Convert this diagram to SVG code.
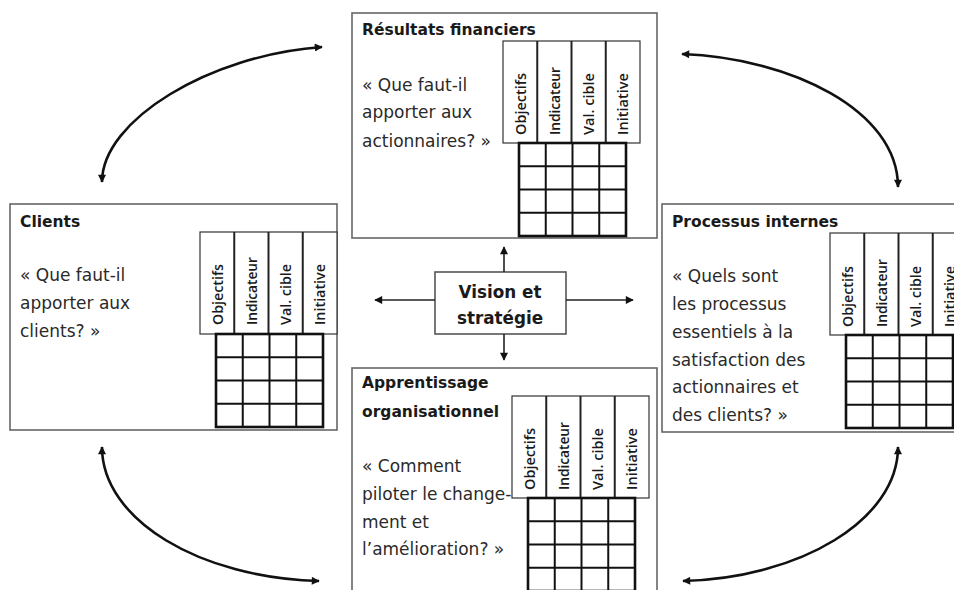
<svg xmlns="http://www.w3.org/2000/svg" width="954" height="590" viewBox="0 0 954 590">
  <style>
    .box { fill: #fff; stroke: #666; stroke-width: 1.6; }
    .hdr { fill: #fff; stroke: #333; stroke-width: 1.2; }
    .div { stroke: #222; stroke-width: 2; }
    .grid { fill: #fff; stroke: #111; stroke-width: 2.6; }
    .gl { stroke: #111; stroke-width: 2; }
    .title { font-family: "DejaVu Sans", sans-serif; font-weight: bold; font-size: 15.5px; fill: #1a1a1a; }
    .q { font-family: "DejaVu Sans", sans-serif; font-size: 17px; fill: #2a2a2a; }
    .col { font-family: "Open Sans", "Liberation Sans", sans-serif; font-weight: 600; font-size: 14.5px; fill: #1a1a1a; dominant-baseline: central; }
    .center { font-family: "DejaVu Sans", sans-serif; font-weight: bold; font-size: 16.8px; fill: #1a1a1a; text-anchor: middle; }
    .link { fill: none; stroke: #111; stroke-width: 2.6; }
    .axis { fill: none; stroke: #222; stroke-width: 1.6; }
  </style>
  <defs>
    <marker id="ah" viewBox="0 0 10 10" refX="9" refY="5" markerWidth="9" markerHeight="8" markerUnits="userSpaceOnUse" orient="auto-start-reverse">
      <path d="M0,0 L10,5 L0,10 z" fill="#111"/>
    </marker>
  </defs>

  <rect width="954" height="590" fill="#fff"/>

  <!-- Résultats financiers -->
  <g id="financier">
    <rect class="box" x="352" y="13" width="305" height="225"/>
    <text class="title" x="362" y="35">Résultats financiers</text>
    <text class="q" x="362" y="91">« Que faut-il</text>
    <text class="q" x="362" y="118">apporter aux</text>
    <text class="q" x="362" y="147">actionnaires? »</text>
    <rect class="hdr" x="503" y="41" width="137" height="102"/>
    <line class="div" x1="537.25" y1="41" x2="537.25" y2="143"/>
    <line class="div" x1="571.5" y1="41" x2="571.5" y2="143"/>
    <line class="div" x1="605.75" y1="41" x2="605.75" y2="143"/>
    <text class="col" transform="translate(520.1,135) rotate(-90)" textLength="62" lengthAdjust="spacingAndGlyphs">Objectifs</text>
    <text class="col" transform="translate(554.4,135) rotate(-90)" textLength="68" lengthAdjust="spacingAndGlyphs">Indicateur</text>
    <text class="col" transform="translate(588.6,135) rotate(-90)" textLength="62" lengthAdjust="spacingAndGlyphs">Val. cible</text>
    <text class="col" transform="translate(622.9,135) rotate(-90)" textLength="62" lengthAdjust="spacingAndGlyphs">Initiative</text>
    <rect class="grid" x="519" y="143" width="107" height="93"/>
    <line class="gl" x1="545.75" y1="143" x2="545.75" y2="236"/>
    <line class="gl" x1="572.5" y1="143" x2="572.5" y2="236"/>
    <line class="gl" x1="599.25" y1="143" x2="599.25" y2="236"/>
    <line class="gl" x1="519" y1="166.25" x2="626" y2="166.25"/>
    <line class="gl" x1="519" y1="189.5" x2="626" y2="189.5"/>
    <line class="gl" x1="519" y1="212.75" x2="626" y2="212.75"/>
  </g>

  <!-- Clients -->
  <g id="clients">
    <rect class="box" x="10" y="204" width="327" height="226"/>
    <text class="title" x="20" y="227">Clients</text>
    <text class="q" x="20" y="281">« Que faut-il</text>
    <text class="q" x="20" y="309">apporter aux</text>
    <text class="q" x="20" y="337">clients? »</text>
    <rect class="hdr" x="200" y="232" width="137" height="102"/>
    <line class="div" x1="234.25" y1="232" x2="234.25" y2="334"/>
    <line class="div" x1="268.5" y1="232" x2="268.5" y2="334"/>
    <line class="div" x1="302.75" y1="232" x2="302.75" y2="334"/>
    <text class="col" transform="translate(217.1,325) rotate(-90)" textLength="61" lengthAdjust="spacingAndGlyphs">Objectifs</text>
    <text class="col" transform="translate(251.4,325) rotate(-90)" textLength="68" lengthAdjust="spacingAndGlyphs">Indicateur</text>
    <text class="col" transform="translate(285.6,325) rotate(-90)" textLength="61" lengthAdjust="spacingAndGlyphs">Val. cible</text>
    <text class="col" transform="translate(319.9,325) rotate(-90)" textLength="61" lengthAdjust="spacingAndGlyphs">Initiative</text>
    <rect class="grid" x="216" y="334" width="107" height="93"/>
    <line class="gl" x1="242.75" y1="334" x2="242.75" y2="427"/>
    <line class="gl" x1="269.5" y1="334" x2="269.5" y2="427"/>
    <line class="gl" x1="296.25" y1="334" x2="296.25" y2="427"/>
    <line class="gl" x1="216" y1="357.25" x2="323" y2="357.25"/>
    <line class="gl" x1="216" y1="380.5" x2="323" y2="380.5"/>
    <line class="gl" x1="216" y1="403.75" x2="323" y2="403.75"/>
  </g>

  <!-- Processus internes (runs past the right edge) -->
  <g id="processus">
    <rect class="box" x="662" y="204" width="300" height="228"/>
    <text class="title" x="672" y="227">Processus internes</text>
    <text class="q" x="672" y="282">« Quels sont</text>
    <text class="q" x="672" y="310">les processus</text>
    <text class="q" x="672" y="338">essentiels à la</text>
    <text class="q" x="672" y="366">satisfaction des</text>
    <text class="q" x="672" y="393">actionnaires et</text>
    <text class="q" x="672" y="421">des clients? »</text>
    <rect class="hdr" x="830" y="233" width="137" height="102"/>
    <line class="div" x1="864.25" y1="233" x2="864.25" y2="335"/>
    <line class="div" x1="898.5" y1="233" x2="898.5" y2="335"/>
    <line class="div" x1="932.75" y1="233" x2="932.75" y2="335"/>
    <text class="col" transform="translate(847.1,327) rotate(-90)" textLength="61" lengthAdjust="spacingAndGlyphs">Objectifs</text>
    <text class="col" transform="translate(881.4,327) rotate(-90)" textLength="68" lengthAdjust="spacingAndGlyphs">Indicateur</text>
    <text class="col" transform="translate(915.6,327) rotate(-90)" textLength="61" lengthAdjust="spacingAndGlyphs">Val. cible</text>
    <text class="col" transform="translate(949.9,327) rotate(-90)" textLength="61" lengthAdjust="spacingAndGlyphs">Initiative</text>
    <rect class="grid" x="846" y="335" width="107" height="93"/>
    <line class="gl" x1="872.75" y1="335" x2="872.75" y2="428"/>
    <line class="gl" x1="899.5" y1="335" x2="899.5" y2="428"/>
    <line class="gl" x1="926.25" y1="335" x2="926.25" y2="428"/>
    <line class="gl" x1="846" y1="358.25" x2="953" y2="358.25"/>
    <line class="gl" x1="846" y1="381.5" x2="953" y2="381.5"/>
    <line class="gl" x1="846" y1="404.75" x2="953" y2="404.75"/>
  </g>

  <!-- Apprentissage organisationnel (runs past the bottom edge) -->
  <g id="apprentissage">
    <rect class="box" x="352" y="368" width="305" height="240"/>
    <text class="title" x="362" y="388">Apprentissage</text>
    <text class="title" x="362" y="417">organisationnel</text>
    <text class="q" x="362" y="472">« Comment</text>
    <text class="q" x="362" y="500">piloter le change-</text>
    <text class="q" x="362" y="528">ment et</text>
    <text class="q" x="362" y="555">l’amélioration? »</text>
    <rect class="hdr" x="512" y="396" width="137" height="102"/>
    <line class="div" x1="546.25" y1="396" x2="546.25" y2="498"/>
    <line class="div" x1="580.5" y1="396" x2="580.5" y2="498"/>
    <line class="div" x1="614.75" y1="396" x2="614.75" y2="498"/>
    <text class="col" transform="translate(529.1,490) rotate(-90)" textLength="62" lengthAdjust="spacingAndGlyphs">Objectifs</text>
    <text class="col" transform="translate(563.4,490) rotate(-90)" textLength="68" lengthAdjust="spacingAndGlyphs">Indicateur</text>
    <text class="col" transform="translate(597.6,490) rotate(-90)" textLength="62" lengthAdjust="spacingAndGlyphs">Val. cible</text>
    <text class="col" transform="translate(631.9,490) rotate(-90)" textLength="62" lengthAdjust="spacingAndGlyphs">Initiative</text>
    <rect class="grid" x="528" y="498" width="107" height="93"/>
    <line class="gl" x1="554.75" y1="498" x2="554.75" y2="591"/>
    <line class="gl" x1="581.5" y1="498" x2="581.5" y2="591"/>
    <line class="gl" x1="608.25" y1="498" x2="608.25" y2="591"/>
    <line class="gl" x1="528" y1="521.25" x2="635" y2="521.25"/>
    <line class="gl" x1="528" y1="544.5" x2="635" y2="544.5"/>
    <line class="gl" x1="528" y1="567.75" x2="635" y2="567.75"/>
  </g>

  <!-- Vision et stratégie -->
  <g id="vision">
    <rect class="box" x="435" y="272" width="131" height="62" style="stroke:#555"/>
    <text class="center" x="500" y="298">Vision et</text>
    <text class="center" x="500" y="324">stratégie</text>
  </g>

  <!-- connectors -->
  <g id="connectors">
    <line class="axis" x1="504" y1="272" x2="504" y2="247" marker-end="url(#ah)"/>
    <line class="axis" x1="504" y1="334" x2="504" y2="360" marker-end="url(#ah)"/>
    <line class="axis" x1="435" y1="300" x2="375" y2="300" marker-end="url(#ah)"/>
    <line class="axis" x1="566" y1="300" x2="633" y2="300" marker-end="url(#ah)"/>
    <path class="link" d="M102,182 C102,120 210,55 322,47" marker-start="url(#ah)" marker-end="url(#ah)"/>
    <path class="link" d="M682,54 C790,58 898,110 898,187" marker-start="url(#ah)" marker-end="url(#ah)"/>
    <path class="link" d="M102,447 C102,520 200,578 319,581" marker-start="url(#ah)" marker-end="url(#ah)"/>
    <path class="link" d="M683,581 C800,578 898,520 898,447" marker-start="url(#ah)" marker-end="url(#ah)"/>
  </g>
</svg>
